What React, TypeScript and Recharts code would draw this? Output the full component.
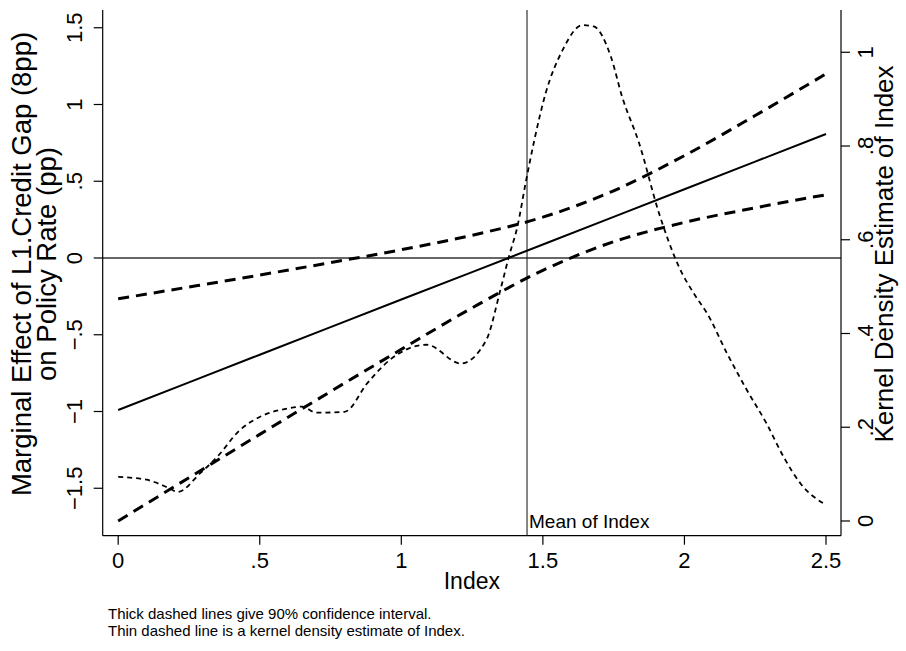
import React from 'react';
import { ComposedChart, Line, XAxis, YAxis, ReferenceLine, Label } from 'recharts';

// ---- data ----
const indexGrid = [0, 0.25, 0.5, 0.75, 1, 1.25, 1.5, 1.75, 2, 2.25, 2.5];
const marginalEffect = [-0.99, -0.81, -0.63, -0.45, -0.27, -0.092, 0.088, 0.268, 0.448, 0.628, 0.808];
const upperCI = [-0.266, -0.189, -0.111, -0.03, 0.054, 0.148, 0.266, 0.438, 0.667, 0.928, 1.2];
const lowerCI = [-1.713, -1.431, -1.149, -0.87, -0.595, -0.325, -0.08, 0.106, 0.232, 0.327, 0.412];

const densityX = [0, 0.1, 0.18, 0.21, 0.29, 0.35, 0.43, 0.5, 0.6, 0.65, 0.7, 0.8, 0.88, 0.96, 1.09, 1.21, 1.3, 1.35, 1.38, 1.41, 1.44, 1.47, 1.51, 1.57, 1.64, 1.68, 1.74, 1.78, 1.84, 1.91, 1.98, 2.04, 2.08, 2.15, 2.22, 2.29, 2.35, 2.41, 2.5];
const densityY = [0.094, 0.088, 0.07, 0.062, 0.102, 0.137, 0.194, 0.222, 0.24, 0.244, 0.231, 0.233, 0.294, 0.344, 0.376, 0.336, 0.386, 0.493, 0.564, 0.628, 0.724, 0.813, 0.913, 1.005, 1.058, 1.055, 0.991, 0.905, 0.806, 0.657, 0.543, 0.479, 0.443, 0.358, 0.28, 0.208, 0.137, 0.08, 0.034];

const meanOfIndex = 1.444;

const xTicks = [0, 0.5, 1, 1.5, 2, 2.5];
const leftTicks = [-1.5, -1, -0.5, 0, 0.5, 1, 1.5];
const rightTicks = [0, 0.2, 0.4, 0.6, 0.8, 1];

const xTitle = 'Index';
const leftTitle1 = 'Marginal Effect of L1.Credit Gap (8pp)';
const leftTitle2 = 'on Policy Rate (pp)';
const rightTitle = 'Kernel Density Estimate of Index';
const meanLabel = 'Mean of Index';
const note1 = 'Thick dashed lines give 90% confidence interval.';
const note2 = 'Thin dashed line is a kernel density estimate of Index.';

// ---- build series ----
const estData = indexGrid.map((x, i) => ({ x, y: marginalEffect[i] }));
const upperData = indexGrid.map((x, i) => ({ x, y: upperCI[i] }));
const lowerData = indexGrid.map((x, i) => ({ x, y: lowerCI[i] }));
const densityData = densityX.map((x, i) => ({ x, y: densityY[i] }));

const FONT = '"Liberation Sans", Arial, Helvetica, sans-serif';

const fmt = (v: number) => {
  if (v === 0) return '0';
  let s = String(Math.abs(v));
  if (s.startsWith('0.')) s = s.slice(1);
  return (v < 0 ? '\u2212' : '') + s;
};

const LeftTick = (props: any) => {
  const { x, y, payload } = props;
  const tx = x - 12;
  return (
    <text x={tx} y={y} transform={`rotate(-90, ${tx}, ${y})`} textAnchor="middle" fontSize={22} fontFamily={FONT} fill="#000">
      {fmt(payload.value)}
    </text>
  );
};

const RightTick = (props: any) => {
  const { x, y, payload } = props;
  const tx = x + 23;
  return (
    <text x={tx} y={y} transform={`rotate(-90, ${tx}, ${y})`} textAnchor="middle" fontSize={22} fontFamily={FONT} fill="#000">
      {fmt(payload.value)}
    </text>
  );
};

const BottomTick = (props: any) => {
  const { x, y, payload } = props;
  return (
    <text x={x} y={y + 23} textAnchor="middle" fontSize={22} fontFamily={FONT} fill="#000">
      {fmt(payload.value)}
    </text>
  );
};

const PLOT_LEFT = 102.7;
const PLOT_RIGHT = 841;
const PLOT_TOP = 10;
const PLOT_BOTTOM = 535.7;
const W = 906;
const H = 651;

export default function App() {
  const midX = (PLOT_LEFT + PLOT_RIGHT) / 2;
  const leftMidY = 264;
  const rightMidY = 254;
  return (
    <div style={{ position: 'absolute', left: 0, top: 0, width: W, height: H, background: '#fff' }}>
      <ComposedChart
        width={W}
        height={H}
        margin={{ top: PLOT_TOP, left: PLOT_LEFT - 60, right: W - PLOT_RIGHT - 60, bottom: H - PLOT_BOTTOM - 40 }}
      >
        <XAxis
          type="number"
          dataKey="x"
          domain={[-0.0547, 2.553]}
          ticks={xTicks}
          height={40}
          tickSize={9}
          tickMargin={0}
          tick={<BottomTick />}
          axisLine={{ stroke: '#000', strokeWidth: 1.2 }}
          tickLine={{ stroke: '#000', strokeWidth: 1.2 }}
          interval={0}
        >
          <Label
            content={() => (
              <g fontFamily={FONT} fill="#000">
                <text x={midX} y={589} textAnchor="middle" fontSize={23}>{xTitle}</text>
                <text x={108} y={619} fontSize={15}>{note1}</text>
                <text x={108} y={636} fontSize={15}>{note2}</text>
              </g>
            )}
          />
        </XAxis>
        <YAxis
          yAxisId="left"
          type="number"
          domain={[-1.8091, 1.6156]}
          ticks={leftTicks}
          width={60}
          tickSize={9}
          tickMargin={0}
          tick={<LeftTick />}
          axisLine={{ stroke: '#000', strokeWidth: 1.2 }}
          tickLine={{ stroke: '#000', strokeWidth: 1.2 }}
          interval={0}
        >
          <Label
            content={() => (
              <g fontFamily={FONT} fill="#000" fontSize={27.5}>
                <text x={31} y={leftMidY} transform={`rotate(-90, 31, ${leftMidY})`} textAnchor="middle">{leftTitle1}</text>
                <text x={56} y={leftMidY} transform={`rotate(-90, 56, ${leftMidY})`} textAnchor="middle">{leftTitle2}</text>
              </g>
            )}
          />
        </YAxis>
        <YAxis
          yAxisId="right"
          orientation="right"
          type="number"
          domain={[-0.0314, 1.0902]}
          ticks={rightTicks}
          width={60}
          tickSize={9}
          tickMargin={0}
          tick={<RightTick />}
          axisLine={{ stroke: '#000', strokeWidth: 1.2 }}
          tickLine={{ stroke: '#000', strokeWidth: 1.2 }}
          interval={0}
        >
          <Label
            content={() => (
              <text x={893} y={rightMidY} transform={`rotate(-90, 893, ${rightMidY})`} textAnchor="middle" fontFamily={FONT} fontSize={26} fill="#000">
                {rightTitle}
              </text>
            )}
          />
        </YAxis>

        <ReferenceLine yAxisId="left" y={0} stroke="#333" strokeWidth={1.6} />
        <ReferenceLine
          yAxisId="left"
          x={meanOfIndex}
          stroke="#222"
          strokeWidth={1.1}
          label={(p: any) => {
            const vb = p.viewBox || {};
            return (
              <text x={(vb.x ?? 0) + 2} y={(vb.y ?? 0) + (vb.height ?? 0) - 7.5} fontFamily={FONT} fontSize={19} fill="#000">
                {meanLabel}
              </text>
            );
          }}
        />

        <Line yAxisId="right" data={densityData} dataKey="y" type="monotone" stroke="#000" strokeWidth={1.8} strokeDasharray="5 4" dot={false} activeDot={false} isAnimationActive={false} />
        <Line yAxisId="left" data={upperData} dataKey="y" type="monotone" stroke="#000" strokeWidth={3} strokeDasharray="11 7" dot={false} activeDot={false} isAnimationActive={false} />
        <Line yAxisId="left" data={lowerData} dataKey="y" type="monotone" stroke="#000" strokeWidth={3} strokeDasharray="11 7" dot={false} activeDot={false} isAnimationActive={false} />
        <Line yAxisId="left" data={estData} dataKey="y" type="linear" stroke="#000" strokeWidth={2} dot={false} activeDot={false} isAnimationActive={false} />
      </ComposedChart>
    </div>
  );
}
